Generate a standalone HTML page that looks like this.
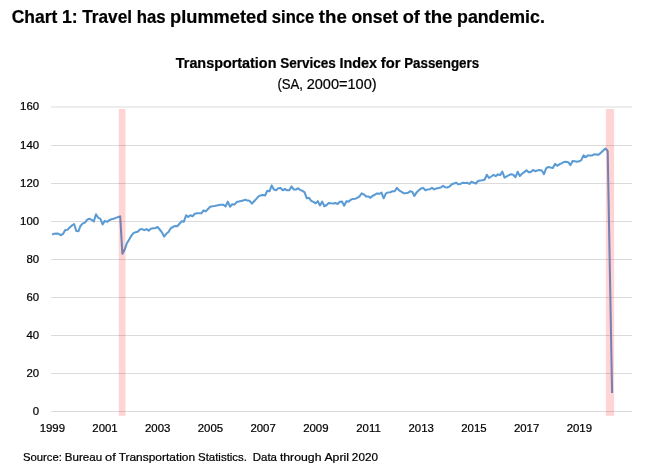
<!DOCTYPE html>
<html lang="en">
<head>
<meta charset="utf-8">
<title>Chart 1: Travel has plummeted since the onset of the pandemic.</title>
<style>
html,body{margin:0;padding:0;background:#fff;}
body{width:650px;height:473px;overflow:hidden;font-family:"Liberation Sans",sans-serif;}
svg{display:block;will-change:transform;}
text{font-family:"Liberation Sans",sans-serif;fill:#000;stroke:#000;stroke-width:0.22px;}
.h1{font-weight:bold;font-size:18.4px;}
.ct{font-weight:bold;font-size:14.5px;}
.st{font-size:14.7px;}
.ax text{font-size:11.4px;fill:#000;}
.src{font-size:11.6px;}
.grid line{stroke:#dbdbdb;stroke-width:1;shape-rendering:crispEdges;}
</style>
</head>
<body>
<svg width="650" height="473" viewBox="0 0 650 473">
<rect width="650" height="473" fill="#fff"/>
<text class="h1" y="22.6"><tspan x="11.70" textLength="45.64" lengthAdjust="spacingAndGlyphs">Chart</tspan> <tspan x="61.91" textLength="15.80" lengthAdjust="spacingAndGlyphs">1:</tspan> <tspan x="82.26" textLength="49.84" lengthAdjust="spacingAndGlyphs">Travel</tspan> <tspan x="136.67" textLength="28.84" lengthAdjust="spacingAndGlyphs">has</tspan> <tspan x="170.07" textLength="97.21" lengthAdjust="spacingAndGlyphs">plummeted</tspan> <tspan x="271.85" textLength="42.44" lengthAdjust="spacingAndGlyphs">since</tspan> <tspan x="318.85" textLength="27.99" lengthAdjust="spacingAndGlyphs">the</tspan> <tspan x="351.40" textLength="46.75" lengthAdjust="spacingAndGlyphs">onset</tspan> <tspan x="402.70" textLength="17.23" lengthAdjust="spacingAndGlyphs">of</tspan> <tspan x="424.50" textLength="27.99" lengthAdjust="spacingAndGlyphs">the</tspan> <tspan x="457.05" textLength="87.82" lengthAdjust="spacingAndGlyphs">pandemic.</tspan></text>
<text class="ct" y="68.4"><tspan x="175.80" textLength="100.63" lengthAdjust="spacingAndGlyphs">Transportation</tspan> <tspan x="280.15" textLength="55.60" lengthAdjust="spacingAndGlyphs">Services</tspan> <tspan x="339.47" textLength="37.62" lengthAdjust="spacingAndGlyphs">Index</tspan> <tspan x="380.81" textLength="19.65" lengthAdjust="spacingAndGlyphs">for</tspan> <tspan x="404.18" textLength="74.90" lengthAdjust="spacingAndGlyphs">Passengers</tspan></text>
<text class="st" y="89.3"><tspan x="277.40" textLength="25.61" lengthAdjust="spacingAndGlyphs">(SA,</tspan> <tspan x="306.65" textLength="70.02" lengthAdjust="spacingAndGlyphs">2000=100)</tspan></text>
<g class="grid"><line x1="51" x2="632" y1="107" y2="107" style="shape-rendering:auto"/><line x1="51" x2="632" y1="145.5" y2="145.5"/><line x1="51" x2="632" y1="183.5" y2="183.5"/><line x1="51" x2="632" y1="221.5" y2="221.5"/><line x1="51" x2="632" y1="259.5" y2="259.5"/><line x1="51" x2="632" y1="297.5" y2="297.5"/><line x1="51" x2="632" y1="335.5" y2="335.5"/><line x1="51" x2="632" y1="373.5" y2="373.5"/><line x1="51" x2="632" y1="411.5" y2="411.5"/></g>
<g class="ax"><text x="39.1" y="110.0" text-anchor="end">160</text><text x="39.1" y="148.5" text-anchor="end">140</text><text x="39.1" y="186.5" text-anchor="end">120</text><text x="39.1" y="224.5" text-anchor="end">100</text><text x="39.1" y="262.5" text-anchor="end">80</text><text x="39.1" y="300.5" text-anchor="end">60</text><text x="39.1" y="338.5" text-anchor="end">40</text><text x="39.1" y="376.5" text-anchor="end">20</text><text x="39.1" y="414.5" text-anchor="end">0</text><text x="52.3" y="432" text-anchor="middle">1999</text><text x="105.0" y="432" text-anchor="middle">2001</text><text x="157.7" y="432" text-anchor="middle">2003</text><text x="210.4" y="432" text-anchor="middle">2005</text><text x="263.1" y="432" text-anchor="middle">2007</text><text x="315.8" y="432" text-anchor="middle">2009</text><text x="368.5" y="432" text-anchor="middle">2011</text><text x="421.2" y="432" text-anchor="middle">2013</text><text x="473.9" y="432" text-anchor="middle">2015</text><text x="526.6" y="432" text-anchor="middle">2017</text><text x="579.3" y="432" text-anchor="middle">2019</text></g>
<polyline fill="none" stroke="#5b9bd5" stroke-width="2.05" stroke-linejoin="round" stroke-linecap="butt" points="52.1,234.4 54.3,233.8 56.5,233.5 58.7,233.8 60.9,235.2 63.1,233.8 65.3,229.9 67.5,229.7 69.7,227.6 71.9,225.5 74.1,224.0 76.3,231.0 78.5,231.2 80.6,225.7 82.8,223.4 85.0,222.6 87.2,219.6 89.4,218.7 91.6,219.8 93.8,221.5 96.0,214.3 98.2,217.7 100.4,218.8 102.6,224.4 104.8,220.9 107.0,221.9 109.2,220.2 111.4,219.2 113.6,218.8 115.8,217.9 118.0,217.1 120.2,216.4 122.4,253.8 124.6,249.8 126.8,243.5 129.0,239.7 131.2,235.9 133.4,233.1 135.5,232.3 137.7,231.8 139.9,229.5 142.1,229.1 144.3,230.2 146.5,229.1 148.7,230.6 150.9,228.7 153.1,228.2 155.3,228.2 157.5,227.0 159.7,229.5 161.9,232.3 164.1,236.5 166.3,233.8 168.5,232.0 170.7,228.3 172.9,227.0 175.1,225.9 177.3,226.2 179.5,223.8 181.7,221.3 183.9,221.7 186.1,215.4 188.3,216.9 190.4,215.2 192.6,216.2 194.8,213.7 197.0,213.3 199.2,213.3 201.4,213.3 203.6,210.3 205.8,211.4 208.0,209.0 210.2,206.7 212.4,206.3 214.6,205.9 216.8,205.4 219.0,205.0 221.2,204.8 223.4,204.8 225.6,206.3 227.8,201.6 230.0,206.7 232.2,204.2 234.4,204.6 236.6,202.1 238.8,201.6 241.0,201.0 243.2,200.4 245.3,199.8 247.5,200.6 249.7,200.8 251.9,203.6 254.1,201.2 256.3,198.9 258.5,196.4 260.7,195.3 262.9,194.9 265.1,195.5 267.3,190.7 269.5,191.3 271.7,185.4 273.9,189.6 276.1,190.2 278.3,188.2 280.5,187.9 282.7,190.3 284.9,189.0 287.1,190.3 289.3,190.2 291.5,186.4 293.7,189.4 295.9,189.6 298.1,188.2 300.2,190.0 302.4,190.7 304.6,192.4 306.8,198.3 309.0,197.8 311.2,200.8 313.4,201.9 315.6,203.3 317.8,201.2 320.0,205.4 322.2,201.6 324.4,206.3 326.6,205.0 328.8,202.9 331.0,203.3 333.2,203.6 335.4,202.9 337.6,204.0 339.8,201.7 342.0,201.6 344.2,205.7 346.4,201.2 348.6,201.6 350.8,199.7 353.0,198.9 355.1,198.7 357.3,197.9 359.5,196.4 361.7,193.4 363.9,194.5 366.1,196.4 368.3,196.4 370.5,197.8 372.7,195.7 374.9,194.7 377.1,193.4 379.3,193.8 381.5,192.6 383.7,198.3 385.9,193.4 388.1,192.4 390.3,192.2 392.5,191.3 394.7,191.3 396.9,187.9 399.1,190.3 401.3,191.7 403.5,193.2 405.7,193.2 407.9,192.8 410.0,191.3 412.2,191.7 414.4,195.9 416.6,192.4 418.8,190.3 421.0,188.6 423.2,187.9 425.4,190.3 427.6,189.4 429.8,189.2 432.0,187.9 434.2,189.4 436.4,188.4 438.6,187.9 440.8,187.5 443.0,185.8 445.2,187.3 447.4,187.5 449.6,186.4 451.8,184.3 454.0,183.5 456.2,182.7 458.4,184.3 460.6,183.9 462.8,182.7 464.9,183.1 467.1,182.7 469.3,183.9 471.5,181.8 473.7,182.7 475.9,183.5 478.1,181.0 480.3,180.5 482.5,180.3 484.7,179.5 486.9,174.8 489.1,178.0 491.3,176.5 493.5,174.8 495.7,176.1 497.9,174.4 500.1,175.1 502.3,171.7 504.5,177.6 506.7,176.3 508.9,175.1 511.1,174.2 513.3,174.8 515.5,177.2 517.7,171.7 519.8,176.1 522.0,173.8 524.2,172.1 526.4,170.2 528.6,172.1 530.8,172.1 533.0,170.0 535.2,171.2 537.4,170.6 539.6,170.0 541.8,170.4 544.0,174.2 546.2,168.1 548.4,167.0 550.6,167.5 552.8,167.9 555.0,163.9 557.2,165.8 559.4,164.3 561.6,163.4 563.8,162.0 566.0,161.7 568.2,162.2 570.4,165.1 572.6,160.9 574.7,161.3 576.9,161.7 579.1,161.3 581.3,160.1 583.5,155.4 585.7,157.1 587.9,155.4 590.1,155.6 592.3,155.4 594.5,154.2 596.7,154.6 598.9,154.6 601.1,152.5 603.3,150.4 605.5,148.5 607.7,151.2 609.9,272.8 612.1,393.1"/>
<rect x="118.8" y="109" width="6.7" height="306.8" fill="#ff0000" fill-opacity="0.17"/>
<rect x="605.9" y="109" width="8.2" height="306.8" fill="#ff0000" fill-opacity="0.17"/>
<text class="src" y="461"><tspan x="23.00" textLength="38.96" lengthAdjust="spacingAndGlyphs">Source:</tspan> <tspan x="64.86" textLength="37.32" lengthAdjust="spacingAndGlyphs">Bureau</tspan> <tspan x="105.09" textLength="10.69" lengthAdjust="spacingAndGlyphs">of</tspan> <tspan x="118.68" textLength="76.43" lengthAdjust="spacingAndGlyphs">Transportation</tspan> <tspan x="198.02" textLength="48.95" lengthAdjust="spacingAndGlyphs">Statistics.</tspan> <tspan x="252.78" textLength="24.23" lengthAdjust="spacingAndGlyphs">Data</tspan> <tspan x="279.90" textLength="41.62" lengthAdjust="spacingAndGlyphs">through</tspan> <tspan x="324.43" textLength="24.55" lengthAdjust="spacingAndGlyphs">April</tspan> <tspan x="351.88" textLength="26.03" lengthAdjust="spacingAndGlyphs">2020</tspan></text>
</svg>
</body>
</html>
